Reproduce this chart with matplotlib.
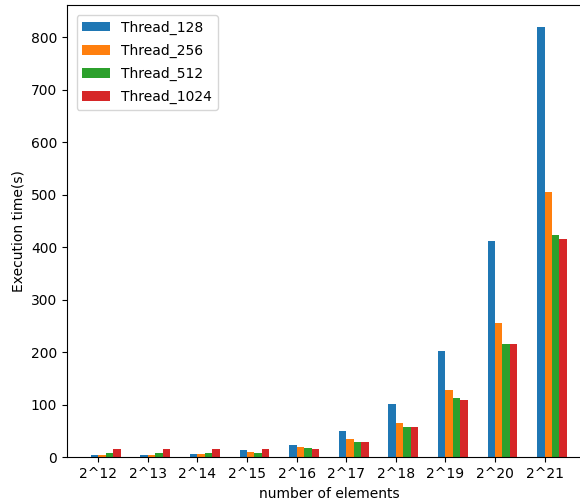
import matplotlib
matplotlib.use("Agg")
import matplotlib.pyplot as plt
import numpy as np

sizes = ["2^12", "2^13", "2^14", "2^15", "2^16", "2^17", "2^18", "2^19", "2^20", "2^21"]
thread_128 = [5, 4, 7, 13, 24, 51, 101, 203, 411, 820]
thread_256 = [5, 4, 7, 11, 19, 34, 65, 128, 256, 505]
thread_512 = [9, 9, 9, 9, 17, 29, 57, 112, 216, 423]
thread_1024 = [15, 15, 15, 15, 15, 29, 57, 110, 216, 415]

w = 0.15
x = np.arange(len(sizes))

fig = plt.figure(figsize=(5.8, 5.04), dpi=100)
ax = fig.add_axes([0.1155, 0.0927, 0.903, 0.897])

ax.bar(x - w, thread_128, w, align="edge", label="Thread_128")
ax.bar(x, thread_256, w, align="edge", label="Thread_256")
ax.bar(x + w, thread_512, w, align="edge", label="Thread_512")
ax.bar(x + 2 * w, thread_1024, w, align="edge", label="Thread_1024")

ax.set_xticks(x)
ax.set_xticklabels(sizes)
ax.set_xlabel("number of elements")
ax.set_ylabel("Execution time(s)")
ax.legend(loc="upper left", labelspacing=0.65, borderaxespad=0.7)

plt.savefig("out.png", dpi=100)
